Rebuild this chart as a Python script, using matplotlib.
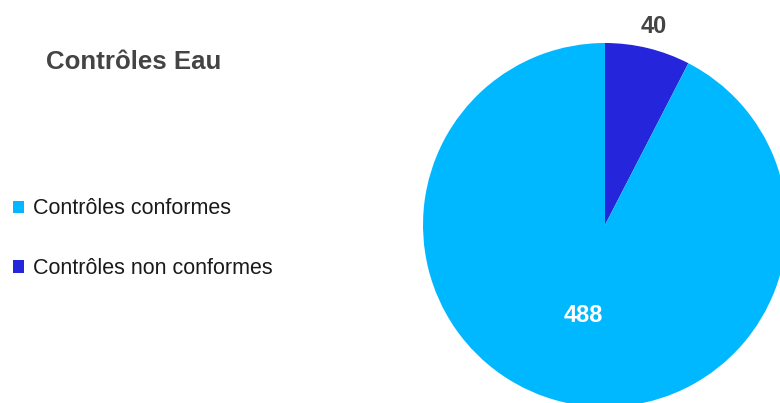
import numpy as np
import matplotlib
matplotlib.use("Agg")
import matplotlib.pyplot as plt
from matplotlib.patches import Patch

plt.rcParams["font.family"] = ["Liberation Sans", "DejaVu Sans"]

# données
categories = ["Contrôles non conformes", "Contrôles conformes"]
values = [40, 488]
colors = ["#2525DB", "#00B8FF"]
legend_order = ["Contrôles conformes", "Contrôles non conformes"]
title = "Contrôles Eau"

W, H = 780, 403
fig = plt.figure(figsize=(W / 100, H / 100), dpi=100)
ax = fig.add_axes([0, 0, 1, 1])

cx, cy, r = 605, H - 225, 182
wedges, _ = ax.pie(values, colors=colors, startangle=90, counterclock=False,
                   center=(cx, cy), radius=r, wedgeprops={"linewidth": 0})
ax.set_xlim(0, W); ax.set_ylim(0, H); ax.set_aspect("equal"); ax.axis("off")

# étiquettes de valeurs
total = sum(values)
start = 90
label_style = [(1.125, "#444444"), (0.51, "white")]
for v, (dist, col) in zip(values, label_style):
    ang = np.deg2rad(start - v / total * 360 / 2)
    ax.text(cx + dist * r * np.cos(ang), cy + dist * r * np.sin(ang), str(v),
            ha="center", va="center", fontsize=17, fontweight="bold", color=col)
    start -= v / total * 360

fig.text(46 / W, 1 - 62 / H, title, fontsize=18.6, fontweight="bold", color="#444444",
         ha="left", va="center")

handles = [Patch(facecolor=colors[categories.index(c)], edgecolor="none") for c in legend_order]
fig.legend(handles, legend_order, loc="upper left", bbox_to_anchor=(-0.0085, 1 - 179 / H),
           frameon=False, fontsize=15.5, handlelength=0.51, handleheight=0.51,
           handletextpad=0.45, labelspacing=1.8, labelcolor="#1a1a1a")

fig.savefig("out.png", dpi=100)
